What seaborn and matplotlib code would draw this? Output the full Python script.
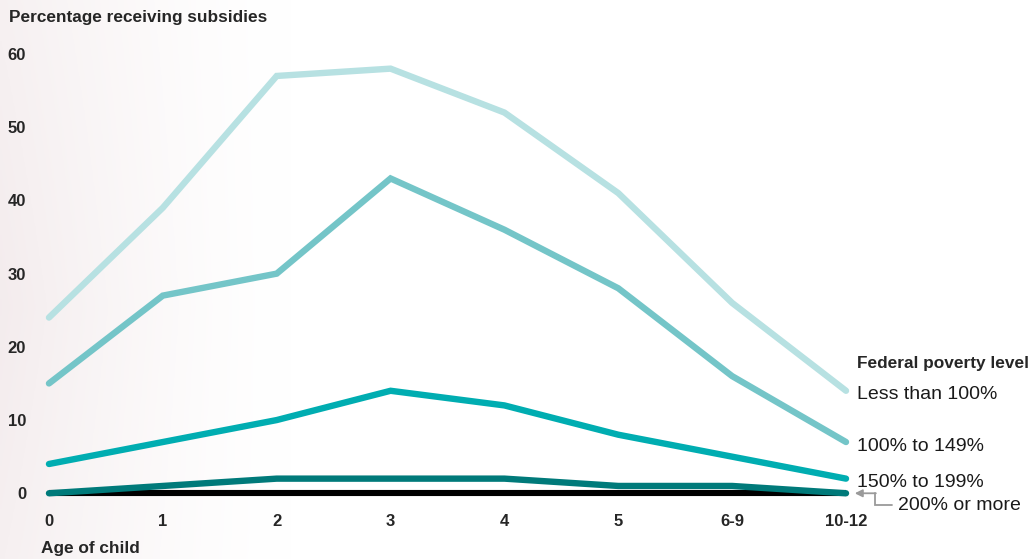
import numpy as np
import pandas as pd
import matplotlib
matplotlib.use("Agg")
import matplotlib.pyplot as plt
from matplotlib.transforms import Affine2D, ScaledTranslation
import seaborn as sns

# Age groups and subsidy rates (%) by federal poverty level
ages = ["0", "1", "2", "3", "4", "5", "6-9", "10-12"]
less_than_100 = [24, 39, 57, 58, 52, 41, 26, 14]
from_100_to_149 = [15, 27, 30, 43, 36, 28, 16, 7]
from_150_to_199 = [4, 7, 10, 14, 12, 8, 5, 2]
from_200_more = [0, 1, 2, 2, 2, 1, 1, 0]

series_names = ["Less than 100%", "100% to 149%", "150% to 199%", "200% or more"]
series_values = [less_than_100, from_100_to_149, from_150_to_199, from_200_more]
colors = ["#b7e1e2", "#74c5c8", "#00adb1", "#007a7a"]
y_ticks = [0, 10, 20, 30, 40, 50, 60]

frames = []
for name, vals in zip(series_names, series_values):
    frames.append(pd.DataFrame({"pos": np.arange(len(ages)), "value": vals, "level": name}))
df = pd.concat(frames, ignore_index=True)

sns.set_style("white")
plt.rcParams["font.family"] = ["Liberation Sans", "DejaVu Sans"]

fig = plt.figure(figsize=(10.33, 5.59), dpi=100)

# faint decorative backdrop on the left
bg = fig.add_axes([0, 0, 1, 1], zorder=-10)
xx = np.linspace(0, 1, 400)
yy = np.linspace(0, 1, 200)
X, Y = np.meshgrid(xx, yy)
fade = np.clip(1 - X / 0.28, 0, 1) ** 1.4 * (0.55 + 0.45 * (1 - np.abs(Y - 0.45)))
img = np.ones((200, 400, 3))
tint = np.array([0.955, 0.925, 0.93])
for c in range(3):
    img[:, :, c] = 1 - fade * (1 - tint[c])
bg.imshow(img, extent=[0, 1, 0, 1], aspect="auto", origin="lower")
bg.axis("off")

ax = fig.add_axes([0.0387, 0.105, 0.789, 0.8115])
ax.patch.set_alpha(0)

sns.lineplot(data=df, x="pos", y="value", hue="level", hue_order=series_names,
             palette=colors, linewidth=4.6, legend=False, ax=ax, zorder=3)
for ln in ax.get_lines():
    ln.set_solid_capstyle("round")
    ln.set_solid_joinstyle("miter")

ax.set_xlim(-0.079, len(ages) - 1 + 0.079)
ax.set_ylim(-0.96, 61)
ax.autoscale(False)

# thick zero baseline spanning the age range
for s in ["top", "right", "left"]:
    ax.spines[s].set_visible(False)
ax.spines["bottom"].set_position(("data", 0))
ax.spines["bottom"].set_bounds(0, len(ages) - 1)
ax.spines["bottom"].set_linewidth(4.4)
ax.spines["bottom"].set_color("black")
ax.spines["bottom"].set_zorder(2)
ax.spines["bottom"].set_capstyle("butt")

ax.set_xticks(np.arange(len(ages)))
ax.set_xticklabels(ages, fontsize=12, fontweight="bold")
ax.set_yticks(y_ticks)
ax.set_yticklabels([str(t) for t in y_ticks], fontsize=12, fontweight="bold")
ax.tick_params(axis="x", length=0, pad=15)
ax.tick_params(axis="y", length=0, pad=10)
ax.set_xlabel("")
ax.set_ylabel("")

fig.text(0.009, 0.969, "Percentage receiving subsidies", fontsize=12.4,
         fontweight="bold", va="center", ha="left")
fig.text(0.040, 0.019, "Age of child", fontsize=12.4, fontweight="bold",
         va="center", ha="left")

last = len(ages) - 1
ax.annotate("Federal poverty level", xy=(last, less_than_100[-1]), xytext=(8, 20),
            textcoords="offset points", fontsize=12.4, fontweight="bold",
            va="center", ha="left", annotation_clip=False)
for name, vals in zip(series_names[:3], series_values[:3]):
    ax.annotate(name, xy=(last, vals[-1]), xytext=(8, -3), textcoords="offset points",
                fontsize=14, va="center", ha="left", color="#1a1a1a",
                annotation_clip=False)

# callout for the lowest series: elbow leader ending in an arrowhead
ax.annotate("200% or more", xy=(last, from_200_more[-1]), xytext=(37.4, -8.8),
            textcoords="offset points", fontsize=14, va="center", ha="left",
            color="#1a1a1a", annotation_clip=False)
pt_trans = (Affine2D().scale(1 / 72) + fig.dpi_scale_trans
            + ScaledTranslation(last, from_200_more[-1], ax.transData))
ax.plot([33, 20.9, 20.9], [-8.6, -8.6, 0], transform=pt_trans, color="#9a9a9a",
        lw=1.3, clip_on=False, solid_joinstyle="miter")
ax.annotate("", xy=(last, from_200_more[-1]), xytext=(21.5, 0),
            textcoords="offset points", annotation_clip=False,
            arrowprops=dict(arrowstyle="-|>", color="#9a9a9a", lw=1.3,
                            shrinkA=0, shrinkB=6.3, mutation_scale=11))

fig.savefig("out.png", dpi=100)
